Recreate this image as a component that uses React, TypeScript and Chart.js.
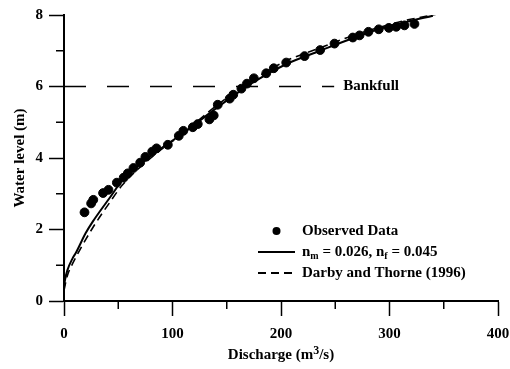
import React, { useEffect, useRef } from "react";
import { Chart, registerables } from "chart.js";

Chart.register(...registerables);

// Observed data (discharge m3/s, water level m)
const observedQ = [18.9, 25, 27, 36, 41, 48.7, 55, 58.8, 64, 70.2, 75, 81.3, 85.3, 95.7, 105.8, 110, 118.7, 123.3, 134, 138, 141.7, 152.7, 156, 163.5, 168.6, 175, 186.4, 193.3, 204.8, 221.7, 236.1, 249.3, 266.2, 272.4, 280.6, 290.1, 299.4, 306.2, 313.8, 323];
const observedLevel = [2.48, 2.73, 2.83, 3.02, 3.11, 3.31, 3.45, 3.57, 3.72, 3.87, 4.03, 4.18, 4.27, 4.37, 4.62, 4.76, 4.86, 4.95, 5.08, 5.19, 5.49, 5.66, 5.77, 5.94, 6.08, 6.23, 6.37, 6.51, 6.67, 6.85, 7.02, 7.2, 7.37, 7.43, 7.53, 7.6, 7.64, 7.67, 7.71, 7.75];

// Model curve n_m = 0.026, n_f = 0.045
const modelQ = [0, 1, 3, 8, 11, 20, 26.5, 42, 54, 80, 110, 142, 175, 205, 236, 266, 290, 315, 340];
const modelLevel = [0.4, 0.6, 0.85, 1.2, 1.35, 1.9, 2.22, 2.88, 3.38, 4.06, 4.7, 5.43, 6.13, 6.63, 7.0, 7.35, 7.6, 7.8, 7.98];

// Darby and Thorne (1996)
const darbyQ = [0, 3, 8, 15, 26.5, 42, 54, 80, 110, 142, 175, 205, 236, 266, 290, 315, 343];
const darbyLevel = [0.3, 0.7, 1.05, 1.45, 2.05, 2.75, 3.25, 4.0, 4.7, 5.5, 6.2, 6.72, 7.08, 7.42, 7.65, 7.85, 8.02];

// Bankfull line
const bankfullQ = [0, 249];
const bankfullLevel = [6, 6];

const xTickValues = [0, 100, 200, 300, 400];
const yTickValues = [0, 2, 4, 6, 8];
const xMinorTicks = [50, 150, 250, 350];
const yMinorTicks = [1, 3, 5, 7];

const legendLabels = ["Observed Data", "n_m = 0.026, n_f = 0.045", "Darby and Thorne (1996)"];

const FONT = "'Liberation Serif', 'Times New Roman', serif";

const toPoints = (xs: number[], ys: number[]) => xs.map((x, i) => ({ x, y: ys[i] }));

const decorPlugin = {
  id: "decor",
  afterDraw(chart: any) {
    const { ctx, chartArea, scales } = chart;
    const xs = scales.x;
    const ys = scales.y;
    ctx.save();
    ctx.strokeStyle = "#000";
    ctx.fillStyle = "#000";
    ctx.lineWidth = 1.5;
    // minor ticks
    yMinorTicks.forEach((v) => {
      const py = ys.getPixelForValue(v);
      ctx.beginPath();
      ctx.moveTo(chartArea.left - 8, py);
      ctx.lineTo(chartArea.left, py);
      ctx.stroke();
    });
    xMinorTicks.forEach((v) => {
      const px = xs.getPixelForValue(v);
      ctx.beginPath();
      ctx.moveTo(px, chartArea.bottom);
      ctx.lineTo(px, chartArea.bottom + 8);
      ctx.stroke();
    });
    // Bankfull label
    ctx.font = `bold 15px ${FONT}`;
    ctx.textAlign = "left";
    ctx.textBaseline = "middle";
    ctx.fillText("Bankfull", xs.getPixelForValue(bankfullQ[1]) + 9, ys.getPixelForValue(bankfullLevel[0]));

    // X axis title with superscript
    {
      const parts: [string, boolean][] = [["Discharge (m", false], ["3", true], ["/s)", false]];
      const widths = parts.map(([t, sup]) => {
        ctx.font = sup ? `bold 12px ${FONT}` : `bold 15px ${FONT}`;
        return ctx.measureText(t).width;
      });
      const total = widths.reduce((a, b) => a + b, 0);
      let x = (chartArea.left + chartArea.right) / 2 - total / 2;
      const y = 355;
      parts.forEach(([t, sup], i) => {
        ctx.font = sup ? `bold 12px ${FONT}` : `bold 15px ${FONT}`;
        ctx.fillText(t, x, sup ? y - 4 : y);
        x += widths[i];
      });
    }

    // Legend
    const lx0 = chartArea.left + 194;
    const lx1 = lx0 + 37;
    const tx = lx0 + 44;
    const rows = [chartArea.top + 216, chartArea.top + 237, chartArea.top + 258];
    ctx.font = `bold 15px ${FONT}`;
    // row 1: dot
    ctx.beginPath();
    ctx.arc((lx0 + lx1) / 2, rows[0], 4, 0, Math.PI * 2);
    ctx.fill();
    ctx.fillText(legendLabels[0], tx, rows[0]);
    // row 2: solid line
    ctx.lineWidth = 2;
    ctx.setLineDash([]);
    ctx.beginPath();
    ctx.moveTo(lx0, rows[1]);
    ctx.lineTo(lx1, rows[1]);
    ctx.stroke();
    let x = tx;
    const drawPart = (t: string, sub: boolean) => {
      ctx.font = sub ? `bold 10px ${FONT}` : `bold 15px ${FONT}`;
      ctx.fillText(t, x, sub ? rows[1] + 4 : rows[1]);
      x += ctx.measureText(t).width;
    };
    drawPart("n", false);
    drawPart("m", true);
    drawPart(" = 0.026, n", false);
    drawPart("f", true);
    drawPart(" = 0.045", false);
    // row 3: dashed line
    ctx.font = `bold 15px ${FONT}`;
    ctx.setLineDash([8, 5]);
    ctx.beginPath();
    ctx.moveTo(lx0, rows[2]);
    ctx.lineTo(lx1, rows[2]);
    ctx.stroke();
    ctx.setLineDash([]);
    ctx.fillText(legendLabels[2], tx, rows[2]);
    ctx.restore();
  },
};

export default function App() {
  const ref = useRef<HTMLCanvasElement | null>(null);
  useEffect(() => {
    if (!ref.current) return;
    Chart.defaults.font.family = FONT;
    Chart.defaults.font.weight = "bold" as any;
    Chart.defaults.font.size = 15;
    Chart.defaults.color = "#000";
    const chart = new Chart(ref.current, {
      type: "scatter",
      data: {
        datasets: [
          {
            label: legendLabels[0],
            data: toPoints(observedQ, observedLevel),
            backgroundColor: "#000",
            borderColor: "#000",
            pointRadius: 4.4,
            showLine: false,
          },
          {
            label: legendLabels[1],
            data: toPoints(modelQ, modelLevel),
            borderColor: "#000",
            borderWidth: 2,
            pointRadius: 0,
            showLine: true,
            cubicInterpolationMode: "monotone",
          },
          {
            label: legendLabels[2],
            data: toPoints(darbyQ, darbyLevel),
            borderColor: "#000",
            borderWidth: 1.6,
            borderDash: [8, 5],
            pointRadius: 0,
            showLine: true,
            cubicInterpolationMode: "monotone",
          },
          {
            label: "Bankfull",
            data: toPoints(bankfullQ, bankfullLevel),
            borderColor: "#000",
            borderWidth: 1.6,
            borderDash: [22, 21],
            pointRadius: 0,
            showLine: true,
          },
        ],
      },
      options: {
        animation: false,
        responsive: true,
        maintainAspectRatio: false,
        layout: { padding: { top: 9, right: 0, bottom: 0, left: 0 } },
        plugins: { legend: { display: false }, tooltip: { enabled: false } },
        scales: {
          x: {
            type: "linear",
            min: 0,
            max: 400,
            afterFit: (s: any) => {
              s.height = 68;
              s.paddingRight = 12;
            },
            afterBuildTicks: (s: any) => {
              s.ticks = xTickValues.map((v) => ({ value: v }));
            },
            ticks: { padding: 9, maxRotation: 0, callback: (v: any) => String(v) },
            grid: { display: true, drawOnChartArea: false, tickLength: 15, tickWidth: 1.5, tickColor: "#000" },
            border: { display: true, color: "#000", width: 2 },
            title: { display: false },
          },
          y: {
            type: "linear",
            min: 0,
            max: 8,
            afterFit: (s: any) => {
              s.width = 64;
            },
            afterBuildTicks: (s: any) => {
              s.ticks = yTickValues.map((v) => ({ value: v }));
            },
            ticks: { padding: 6, callback: (v: any) => String(v) },
            grid: { display: true, drawOnChartArea: false, tickLength: 15, tickWidth: 1.5, tickColor: "#000" },
            border: { display: true, color: "#000", width: 2 },
            title: {
              display: true,
              text: "Water level (m)",
              font: { size: 15, weight: "bold" },
              padding: { top: 11, bottom: 0 },
            },
          },
        },
      },
      plugins: [decorPlugin],
    });
    return () => chart.destroy();
  }, []);
  return (
    <div style={{ position: "fixed", left: 0, top: 0, width: 510, height: 369, background: "#fff" }}>
      <canvas ref={ref} />
    </div>
  );
}
